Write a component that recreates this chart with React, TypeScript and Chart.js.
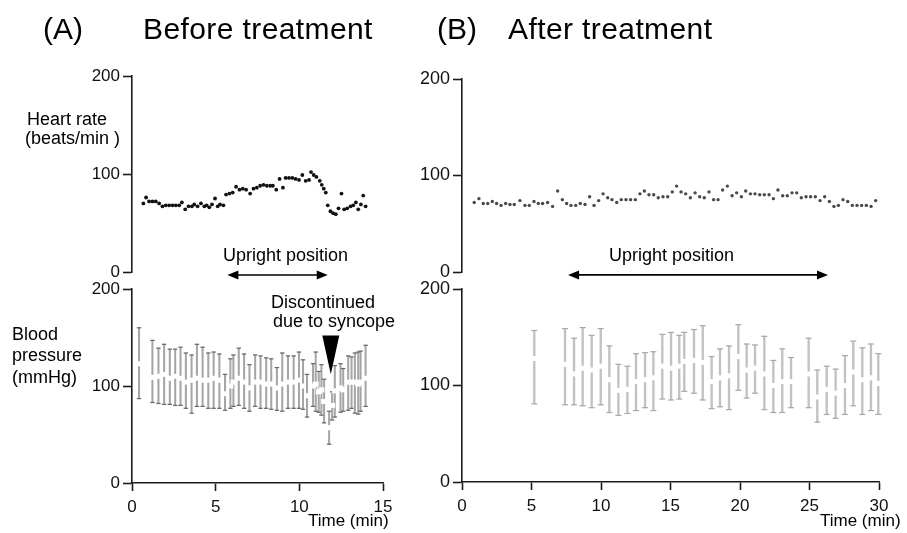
import React, { useEffect, useRef } from "react";
import { Chart, registerables } from "chart.js";
Chart.register(...registerables);

const W = 907;
const H = 533;
const FONT = '"Liberation Sans", Arial, Helvetica, sans-serif';
const AXIS = "#1c1c1c";

// ---------------- DATA ----------------
// (A) Before treatment – heart rate (beats/min)
const hrBeforeTime = [0.68, 0.84, 1.02, 1.22, 1.42, 1.62, 1.82, 2.02, 2.22, 2.42, 2.62, 2.82, 2.98, 3.18, 3.38, 3.58, 3.72, 3.92, 4.12, 4.32, 4.46, 4.62, 4.78, 4.96, 5.12, 5.26, 5.46, 5.62, 5.82, 6.02, 6.22, 6.42, 6.62, 6.82, 7.06, 7.26, 7.46, 7.66, 7.86, 8.06, 8.26, 8.42, 8.62, 8.82, 9.02, 9.18, 9.38, 9.58, 9.78, 9.98, 10.18, 10.38, 10.58, 10.7, 10.86, 11.02, 11.22, 11.34, 11.46, 11.58, 11.7, 11.86, 12.02, 12.18, 12.34, 12.52, 12.68, 12.86, 13.06, 13.22, 13.38, 13.52, 13.68, 13.82, 13.96];
const hrBeforeValue = [70, 76, 72, 72, 72, 70, 67, 68, 68, 68, 68, 68, 71, 64, 67, 67, 69, 67, 70, 67, 68, 66, 69, 75, 67, 69, 68, 79, 80, 81, 87, 84, 85, 84, 80, 85, 86, 88, 89, 88, 88, 88, 84, 95, 86, 96, 96, 96, 95, 94, 99, 93, 94, 102, 99, 97, 93, 89, 85, 81, 68, 62, 60, 59, 65, 80, 64, 65, 67, 68, 71, 64, 69, 78, 67];

// (B) After treatment – heart rate (beats/min)
const hrAfterTime = [0.88, 1.22, 1.53, 1.85, 2.18, 2.49, 2.81, 3.14, 3.45, 3.76, 4.17, 4.53, 4.84, 5.18, 5.49, 5.8, 6.16, 6.52, 6.88, 7.22, 7.53, 7.84, 8.18, 8.51, 8.85, 9.18, 9.5, 9.83, 10.15, 10.48, 10.79, 11.13, 11.46, 11.8, 12.13, 12.47, 12.8, 13.12, 13.45, 13.79, 14.12, 14.46, 14.8, 15.13, 15.44, 15.76, 16.09, 16.43, 16.77, 17.1, 17.43, 17.77, 18.1, 18.42, 18.75, 19.09, 19.43, 19.76, 20.1, 20.41, 20.75, 21.08, 21.42, 21.75, 22.09, 22.4, 22.73, 23.07, 23.4, 23.74, 24.08, 24.41, 24.75, 25.08, 25.42, 25.76, 26.09, 26.43, 26.76, 27.08, 27.41, 27.75, 28.08, 28.42, 28.75, 29.09, 29.43, 29.76];
const hrAfterValue = [72, 76, 71, 71, 73, 71, 69, 71, 70, 70, 74, 69, 69, 73, 71, 71, 72, 68, 84, 75, 71, 69, 69, 71, 70, 78, 69, 74, 81, 77, 75, 72, 75, 75, 75, 75, 81, 84, 80, 80, 77, 78, 78, 83, 89, 83, 81, 77, 82, 78, 77, 83, 75, 75, 85, 89, 79, 82, 78, 84, 81, 81, 80, 80, 80, 76, 85, 79, 79, 82, 82, 77, 78, 78, 78, 74, 78, 73, 68, 69, 75, 73, 69, 69, 69, 69, 68, 74];

// (A) Before treatment – blood pressure (mmHg)
const bpBeforeTime = [0.42, 1.22, 1.58, 1.92, 2.26, 2.58, 2.9, 3.22, 3.56, 3.88, 4.22, 4.56, 4.88, 5.22, 5.56, 5.88, 6.06, 6.38, 6.7, 7.02, 7.36, 7.68, 8.02, 8.32, 8.66, 8.98, 9.32, 9.66, 9.98, 10.22, 10.46, 10.82, 10.98, 11.16, 11.32, 11.48, 11.78, 11.96, 12.12, 12.46, 12.62, 12.92, 13.12, 13.32, 13.52, 13.66, 13.96];
const bpBeforeSys = [160, 147, 139, 143, 138, 138, 140, 134, 132, 143, 140, 134, 135, 133, 112, 128, 132, 139, 133, 122, 132, 131, 129, 128, 119, 134, 131, 131, 135, 127, 112, 123, 135, 115, 122, 107, 74, 94, 121, 123, 118, 131, 130, 134, 135, 136, 142];
const bpBeforeDia = [87, 83, 82, 81, 81, 80, 80, 77, 72, 79, 79, 77, 77, 77, 75, 77, 79, 80, 77, 74, 79, 77, 77, 76, 75, 74, 77, 77, 77, 76, 68, 79, 74, 73, 70, 62, 40, 65, 68, 73, 74, 75, 77, 72, 71, 74, 79];
const bpBeforeMean = [123, 109, 110, 112, 108, 110, 108, 104, 106, 108, 106, 106, 108, 106, 92, 100, 104, 108, 104, 98, 104, 104, 102, 102, 98, 102, 104, 104, 106, 100, 90, 100, 102, 94, 96, 84, 57, 80, 95, 98, 96, 104, 104, 104, 102, 104, 108];

// (B) After treatment – blood pressure (mmHg)
const bpAfterTime = [5.2, 7.41, 8.06, 8.68, 9.33, 9.98, 10.6, 11.25, 11.9, 12.52, 13.17, 13.77, 14.41, 15.04, 15.63, 15.99, 16.69, 17.32, 17.96, 18.56, 19.21, 19.88, 20.48, 21.08, 21.75, 22.4, 23.04, 23.67, 24.94, 25.56, 26.24, 26.88, 27.55, 28.15, 28.8, 29.42, 29.95];
const bpAfterSys = [157, 159, 149, 160, 152, 159, 141, 122, 120, 133, 134, 135, 153, 155, 152, 155, 158, 162, 130, 138, 141, 163, 143, 142, 151, 126, 138, 129, 149, 116, 120, 117, 131, 146, 139, 143, 133];
const bpAfterDia = [81, 80, 80, 79, 77, 80, 72, 69, 71, 74, 77, 74, 86, 85, 86, 94, 92, 85, 76, 78, 75, 95, 87, 92, 75, 72, 72, 77, 77, 62, 70, 66, 70, 79, 70, 74, 70];
const bpAfterMean = [128, 122, 112, 118, 116, 120, 106, 95, 96, 104, 106, 108, 120, 118, 120, 125, 126, 124, 104, 108, 110, 130, 116, 118, 112, 100, 104, 104, 112, 88, 96, 92, 100, 114, 106, 108, 102];

// Axis ticks and annotations
const yTicks = [0, 100, 200];
const xTicksBefore = [0, 5, 10, 15];
const xTicksAfter = [0, 5, 10, 15, 20, 25, 30];
const uprightBefore = [5.7, 11.7];
const uprightAfter = [7.63, 26.33];
const syncopeTime = 11.88;

// ---------------- CHART HELPERS ----------------
type Panel = {
  left: number; right: number; top: number; bottom: number;
  xMax: number; xTicks: number[]; showX: boolean; yFont: number;
};

const YW = 60;
const XH = 45;

function baseOptions(p: Panel): any {
  const x: any = {
    type: "linear",
    min: 0,
    max: p.xMax,
    display: p.showX,
    offset: false,
    afterBuildTicks: (s: any) => { s.ticks = p.xTicks.map((v) => ({ value: v })); },
    ticks: { font: { family: FONT, size: 17 }, color: "#111", padding: 6, maxRotation: 0, autoSkip: false },
    grid: { display: true, drawOnChartArea: false, drawTicks: true, tickLength: 8, tickWidth: 1.6, tickColor: AXIS, offset: false },
    border: { display: true, color: AXIS, width: 1.6 },
  };
  if (p.showX) x.afterFit = (s: any) => { s.height = XH; };
  return {
    responsive: false,
    animation: false,
    events: [],
    layout: {
      padding: {
        left: p.left - YW,
        right: W - p.right,
        top: p.top,
        bottom: H - p.bottom - (p.showX ? XH : 0),
      },
    },
    plugins: { legend: { display: false }, tooltip: { enabled: false }, title: { display: false } },
    scales: {
      x,
      y: {
        type: "linear",
        min: 0,
        max: 200,
        afterFit: (s: any) => { s.width = YW; },
        afterBuildTicks: (s: any) => { s.ticks = yTicks.map((v) => ({ value: v })); },
        ticks: { font: { family: FONT, size: p.yFont }, color: "#111", padding: 3 },
        grid: { display: true, drawOnChartArea: false, drawTicks: true, tickLength: 9, tickWidth: 1.6, tickColor: AXIS },
        border: { display: true, color: AXIS, width: 1.6 },
      },
    },
  };
}

function arrowPlugin(from: number, to: number) {
  return {
    id: "uprightArrow",
    afterDraw(chart: any) {
      const { ctx, scales } = chart;
      const x1 = scales.x.getPixelForValue(from);
      const x2 = scales.x.getPixelForValue(to);
      const y = scales.y.getPixelForValue(-3);
      const hl = 11, hw = 4.5;
      ctx.save();
      ctx.strokeStyle = "#000";
      ctx.fillStyle = "#000";
      ctx.lineWidth = 1.6;
      ctx.beginPath();
      ctx.moveTo(x1 + hl - 1, y);
      ctx.lineTo(x2 - hl + 1, y);
      ctx.stroke();
      ctx.beginPath();
      ctx.moveTo(x1, y);
      ctx.lineTo(x1 + hl, y - hw);
      ctx.lineTo(x1 + hl, y + hw);
      ctx.closePath();
      ctx.fill();
      ctx.beginPath();
      ctx.moveTo(x2, y);
      ctx.lineTo(x2 - hl, y - hw);
      ctx.lineTo(x2 - hl, y + hw);
      ctx.closePath();
      ctx.fill();
      ctx.restore();
    },
  };
}

const syncopePlugin = {
  id: "syncopeMarker",
  afterDraw(chart: any) {
    const { ctx, scales } = chart;
    const cx = scales.x.getPixelForValue(syncopeTime);
    const top = scales.y.getPixelForValue(152);
    const tip = scales.y.getPixelForValue(112);
    ctx.save();
    ctx.fillStyle = "#000";
    ctx.beginPath();
    ctx.moveTo(cx - 8.5, top);
    ctx.lineTo(cx + 8.5, top);
    ctx.lineTo(cx, tip);
    ctx.closePath();
    ctx.fill();
    ctx.restore();
  },
};

function hrConfig(p: Panel, times: number[], values: number[], color: string, r: number, arrow: number[]): any {
  return {
    type: "scatter",
    data: {
      datasets: [
        {
          data: times.map((t, i) => ({ x: t, y: values[i] })),
          pointRadius: r,
          pointBackgroundColor: color,
          pointBorderWidth: 0,
          showLine: false,
          clip: false,
        },
      ],
    },
    options: baseOptions(p),
    plugins: [arrowPlugin(arrow[0], arrow[1])],
  };
}

function bpConfig(
  p: Panel, times: number[], sys: number[], dia: number[], mean: number[],
  barColor: string, barW: number, capColor: string, capR: number, extra: any[]
): any {
  const caps = [
    ...times.map((t, i) => ({ x: t, y: sys[i] })),
    ...times.map((t, i) => ({ x: t, y: dia[i] })),
  ];
  return {
    type: "scatter",
    data: {
      datasets: [
        {
          type: "scatter",
          order: 0,
          data: times.map((t, i) => ({ x: t, y: mean[i] })),
          pointStyle: "line",
          pointRadius: 3,
          pointBorderWidth: 5,
          pointBorderColor: "#ffffff",
          pointBackgroundColor: "#ffffff",
          clip: false,
        },
        {
          type: "scatter",
          order: 1,
          data: caps,
          pointStyle: "line",
          pointRadius: capR,
          pointBorderWidth: 1.2,
          pointBorderColor: capColor,
          clip: false,
        },
        {
          type: "bar",
          order: 2,
          data: times.map((t, i) => ({ x: t, y: [dia[i], sys[i]] })),
          backgroundColor: barColor,
          borderWidth: 0,
          barThickness: barW,
          grouped: false,
          clip: false,
        },
      ],
    },
    options: baseOptions(p),
    plugins: extra,
  };
}

function ChartCanvas({ make }: { make: () => any }) {
  const ref = useRef<HTMLCanvasElement | null>(null);
  useEffect(() => {
    if (!ref.current) return;
    const chart = new Chart(ref.current, make());
    return () => chart.destroy();
  }, []);
  return (
    <canvas
      ref={ref}
      width={W}
      height={H}
      style={{ position: "absolute", left: 0, top: 0, width: W, height: H }}
    />
  );
}

function Txt({ x, base, size, spacing = 0, children }: { x: number; base: number; size: number; spacing?: number; children: any }) {
  return (
    <div
      style={{
        position: "absolute",
        left: x,
        top: base - 0.8465 * size,
        fontFamily: FONT,
        fontSize: size,
        lineHeight: `${size}px`,
        letterSpacing: spacing,
        whiteSpace: "nowrap",
        color: "#000",
      }}
    >
      {children}
    </div>
  );
}

const panelA1: Panel = { left: 132, right: 383, top: 76, bottom: 272, xMax: 15, xTicks: xTicksBefore, showX: false, yFont: 17 };
const panelA2: Panel = { left: 132, right: 383, top: 289, bottom: 483, xMax: 15, xTicks: xTicksBefore, showX: true, yFont: 17 };
const panelB1: Panel = { left: 462, right: 879, top: 79, bottom: 272, xMax: 30, xTicks: xTicksAfter, showX: false, yFont: 18 };
const panelB2: Panel = { left: 462, right: 879, top: 289, bottom: 482, xMax: 30, xTicks: xTicksAfter, showX: true, yFont: 18 };

export default function App() {
  return (
    <div style={{ position: "absolute", left: 0, top: 0, width: W, height: H, background: "#fff", overflow: "hidden" }}>
      <ChartCanvas make={() => hrConfig(panelA1, hrBeforeTime, hrBeforeValue, "#111", 1.9, uprightBefore)} />
      <ChartCanvas make={() => bpConfig(panelA2, bpBeforeTime, bpBeforeSys, bpBeforeDia, bpBeforeMean, "#a6a6a6", 1.4, "#666666", 2.2, [syncopePlugin])} />
      <ChartCanvas make={() => hrConfig(panelB1, hrAfterTime, hrAfterValue, "#4a4a4a", 1.7, uprightAfter)} />
      <ChartCanvas make={() => bpConfig(panelB2, bpAfterTime, bpAfterSys, bpAfterDia, bpAfterMean, "#c2c2c2", 1.7, "#a8a8a8", 3, [])} />

      <Txt x={43} base={39} size={30}>(A)</Txt>
      <Txt x={143} base={39} size={30} spacing={0.4}>Before treatment</Txt>
      <Txt x={437} base={39} size={30}>(B)</Txt>
      <Txt x={508} base={39} size={30} spacing={0.4}>After treatment</Txt>

      <Txt x={27} base={125} size={18}>Heart rate</Txt>
      <Txt x={25} base={144.5} size={18}>(beats/min )</Txt>

      <Txt x={12} base={340} size={18}>Blood</Txt>
      <Txt x={12} base={361.5} size={18}>pressure</Txt>
      <Txt x={12} base={383} size={18}>(mmHg)</Txt>

      <Txt x={223} base={261} size={18}>Upright position</Txt>
      <Txt x={609} base={261} size={18}>Upright position</Txt>

      <Txt x={271} base={308} size={18}>Discontinued</Txt>
      <Txt x={273} base={327} size={18}>due to syncope</Txt>

      <Txt x={308} base={526} size={17}>Time (min)</Txt>
      <Txt x={820} base={526} size={17}>Time (min)</Txt>
    </div>
  );
}
